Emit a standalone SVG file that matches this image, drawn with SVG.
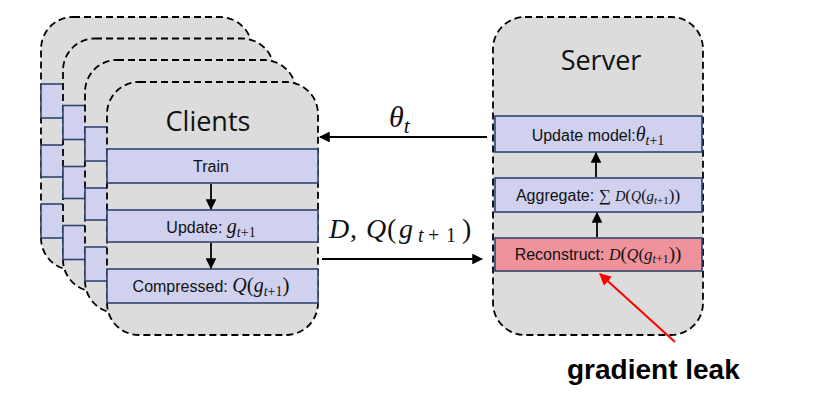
<svg xmlns="http://www.w3.org/2000/svg" width="823" height="412" viewBox="0 0 823 412">
<style>
.card{fill:#dcdcdc;stroke:#000;stroke-width:1.8;stroke-dasharray:7 4}
.box{fill:#cfd1ee;stroke:#2f4470;stroke-width:1.6}
.red{fill:#ef929c;stroke:#2f4470;stroke-width:1.6}
.lbl{font-family:"Liberation Sans","Open Sans",sans-serif;font-size:16px;fill:#111}
.title{font-family:"Open Sans","Liberation Sans",sans-serif;font-size:27px;fill:#111}
.m{font-family:"Liberation Serif","DejaVu Serif",serif;font-style:italic}
.n{font-family:"Liberation Serif","DejaVu Serif",serif;font-style:normal}
.conn{stroke:#000;stroke-width:1.8;fill:none}
</style>
<defs>
<marker id="ah" viewBox="0 0 10 10" refX="9" refY="5" markerWidth="6" markerHeight="6" orient="auto" markerUnits="strokeWidth"><path d="M0,0 L10,5 L0,10 z" fill="#000"/></marker>
<marker id="ahr" viewBox="0 0 10 10" refX="9" refY="5" markerWidth="6" markerHeight="6" orient="auto" markerUnits="strokeWidth"><path d="M0,0 L10,5 L0,10 z" fill="#f00"/></marker>
</defs>
<rect width="823" height="412" fill="#fff"/>

<g id="client-back-1">
<rect class="card" x="41" y="17" width="211" height="253" rx="32"/>
<rect class="box" x="41" y="84" width="211" height="34"/>
<rect class="box" x="41" y="145" width="211" height="32"/>
<rect class="box" x="41" y="204" width="211" height="34"/>
</g>
<g id="client-back-2">
<rect class="card" x="63" y="38.5" width="211" height="253" rx="32"/>
<rect class="box" x="63" y="105.5" width="211" height="34"/>
<rect class="box" x="63" y="166.5" width="211" height="32"/>
<rect class="box" x="63" y="225.5" width="211" height="34"/>
</g>
<g id="client-back-3">
<rect class="card" x="85" y="60" width="211" height="253" rx="32"/>
<rect class="box" x="85" y="127" width="211" height="34"/>
<rect class="box" x="85" y="188" width="211" height="32"/>
<rect class="box" x="85" y="247" width="211" height="34"/>
</g>
<g id="clients">
<rect class="card" x="107" y="82" width="211" height="253" rx="32"/>
<text class="title" x="208" y="131" text-anchor="middle">Clients</text>
<g id="train"><rect class="box" x="107" y="149" width="211" height="34"/>
<text class="lbl" x="211" y="172" text-anchor="middle">Train</text></g>
<g id="update"><rect class="box" x="107" y="210" width="211" height="32"/>
<text class="lbl" x="211" y="233" text-anchor="middle">Update: <tspan class="m" font-size="20">g</tspan><tspan class="m" font-size="14" dy="4">t</tspan><tspan class="n" font-size="14">+1</tspan></text></g>
<g id="compressed"><rect class="box" x="107" y="269" width="211" height="34"/>
<text class="lbl" x="211" y="292" text-anchor="middle">Compressed: <tspan class="m" font-size="20">Q</tspan><tspan class="n" font-size="21">(</tspan><tspan class="m" font-size="20">g</tspan><tspan class="m" font-size="14" dy="4">t</tspan><tspan class="n" font-size="14">+1</tspan><tspan class="n" font-size="21" dy="-4">)</tspan></text></g>
</g>

<g id="server">
<rect class="card" x="493" y="17" width="210" height="318" rx="32"/>
<text class="title" x="601" y="70" text-anchor="middle">Server</text>
<g id="update-model"><rect class="box" x="495" y="116" width="207" height="36"/>
<text class="lbl" x="598" y="141" text-anchor="middle">Update model:<tspan class="m" font-size="20">θ</tspan><tspan class="m" font-size="14" dy="4">t</tspan><tspan class="n" font-size="14">+1</tspan></text></g>
<g id="aggregate"><rect class="box" x="495" y="178" width="207" height="34"/>
<text class="lbl" x="598" y="201" text-anchor="middle">Aggregate:  <tspan class="n" font-size="17">∑</tspan> <tspan class="m" font-size="14">D</tspan><tspan class="n" font-size="17">(</tspan><tspan class="m" font-size="14">Q</tspan><tspan class="n" font-size="16">(</tspan><tspan class="m" font-size="15">g</tspan><tspan class="m" font-size="11" dy="3">t</tspan><tspan class="n" font-size="11">+1</tspan><tspan class="n" font-size="17" dy="-3">))</tspan></text></g>
<g id="reconstruct"><rect class="red" x="495" y="238" width="207" height="33"/>
<text class="lbl" x="598" y="260" text-anchor="middle">Reconstruct: <tspan class="m" font-size="16">D</tspan><tspan class="n" font-size="19">(</tspan><tspan class="m" font-size="16">Q</tspan><tspan class="n" font-size="17">(</tspan><tspan class="m" font-size="17">g</tspan><tspan class="m" font-size="12" dy="3">t</tspan><tspan class="n" font-size="12">+1</tspan><tspan class="n" font-size="19" dy="-3">))</tspan></text></g>
</g>

<g id="connectors">
<line class="conn" x1="211" y1="184" x2="211" y2="209" marker-end="url(#ah)"/>
<line class="conn" x1="211" y1="243" x2="211" y2="268" marker-end="url(#ah)"/>
<line class="conn" x1="597" y1="237" x2="597" y2="213" marker-end="url(#ah)"/>
<line class="conn" x1="596" y1="177" x2="596" y2="153" marker-end="url(#ah)"/>
<line class="conn" x1="487" y1="137" x2="320" y2="137" marker-end="url(#ah)"/>
<line class="conn" x1="322" y1="259" x2="482" y2="259" marker-end="url(#ah)"/>
<line x1="675" y1="342" x2="600" y2="274" stroke="#f00" stroke-width="2" marker-end="url(#ahr)"/>
<text x="389" y="127" font-size="30" class="m" fill="#111">θ<tspan font-size="22" dy="6">t</tspan></text>
<text y="238" font-size="28" class="m" fill="#111"><tspan x="329">D</tspan><tspan class="n" x="350">,</tspan><tspan x="366">Q</tspan><tspan class="n" x="387">(</tspan><tspan x="399">g</tspan><tspan font-size="20" x="418" dy="4">t</tspan><tspan class="n" font-size="20" x="428">+</tspan><tspan class="n" font-size="20" x="446">1</tspan><tspan class="n" x="462" dy="-4">)</tspan></text>
</g>
<text x="567" y="379" font-family="Liberation Sans, Open Sans, sans-serif" font-weight="bold" font-size="28" fill="#000">gradient leak</text>
</svg>
